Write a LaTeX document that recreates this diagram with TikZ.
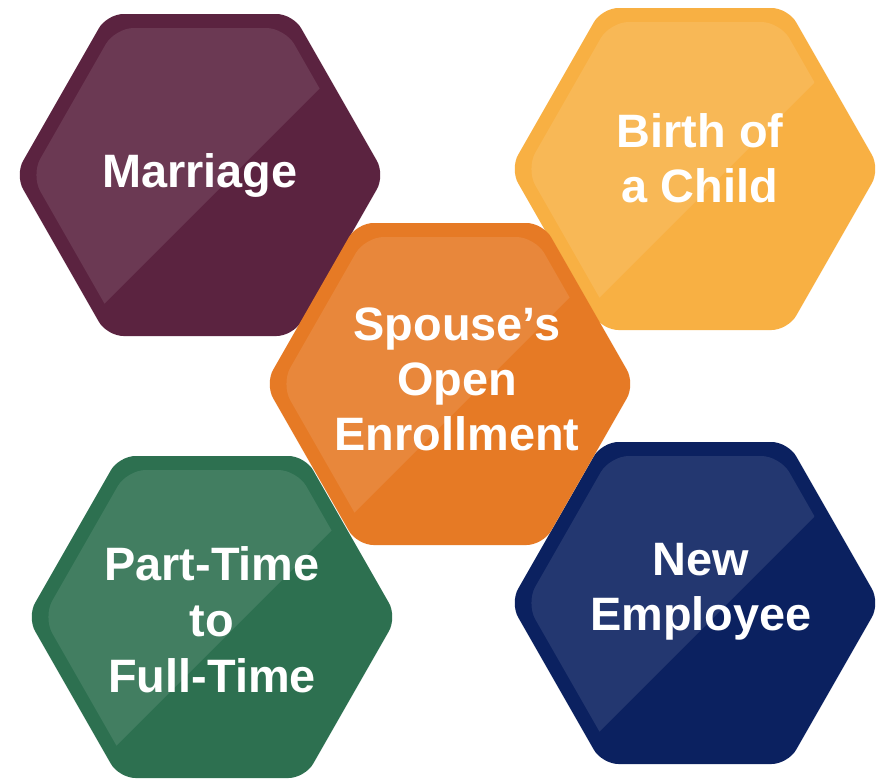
\documentclass[tikz,border=0pt]{standalone}
\usepackage{fontspec}
\setmainfont{Liberation Sans}
\definecolor{cplum}{HTML}{5B2340}
\definecolor{cgold}{HTML}{F8B043}
\definecolor{corange}{HTML}{E67A25}
\definecolor{cgreen}{HTML}{2D7050}
\definecolor{cnavy}{HTML}{0B2160}
\begin{document}
\begin{tikzpicture}[x=0.03cm,y=-0.03cm]
\tikzset{
  lbl/.style={text=white, font=\fontsize{40}{48}\selectfont\bfseries, anchor=base, inner sep=0pt},
  hexa/.pic={
    \fill[rounded corners=14pt, fill=#1] (0,-161) -- (93,-161) -- (185,0) -- (93,161) -- (-93,161) -- (-185,0) -- (-93,-161) -- cycle;
    \begin{scope}
      \clip (-400,-400) -- (433,-400) -- (-400,433) -- cycle;
      \fill[rounded corners=16pt, white, opacity=0.1] (0,-147) -- (85,-147) -- (169,0) -- (85,147) -- (-85,147) -- (-169,0) -- (-85,-147) -- cycle;
    \end{scope}
  }
}
\useasboundingbox (0,0) rectangle (884,779);
\fill[white] (0,0) rectangle (884,779);

\pic at (200,175) {hexa=cplum};
\node[lbl] (m1) at (200,187) {Marriage};

\pic at (695,169) {hexa=cgold};
\node[lbl] (b1) at (700,147) {Birth of};
\node[lbl] (b2) at (700,202) {a Child};

\pic at (212,617) {hexa=cgreen};
\node[lbl] (p1) at (212,580) {Part-Time};
\node[lbl] (p2) at (212,636) {to};
\node[lbl] (p3) at (212,692) {Full-Time};

\pic at (695,603) {hexa=cnavy};
\node[lbl] (n1) at (701,575) {New};
\node[lbl] (n2) at (701,630) {Employee};

\pic at (450,384) {hexa=corange};
\node[lbl] (s1) at (457,340) {Spouse’s};
\node[lbl] (s2) at (457,395) {Open};
\node[lbl] (s3) at (457,450) {Enrollment};
\end{tikzpicture}
\end{document}
